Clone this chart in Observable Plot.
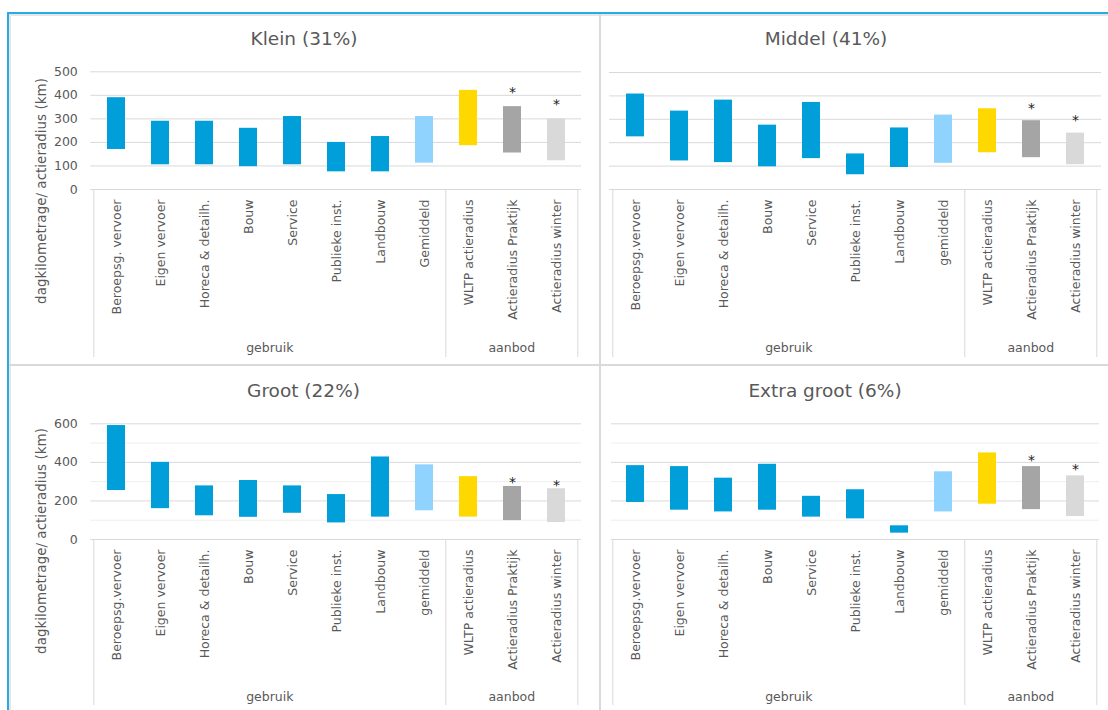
<!DOCTYPE html>
<html><head><meta charset="utf-8">
<script src="https://cdn.jsdelivr.net/npm/d3@7"></script>
<script src="https://cdn.jsdelivr.net/npm/@observablehq/plot@0.6"></script>
<style>
body{margin:0;background:#fff;font-family:"DejaVu Sans",sans-serif;}
#wrap{position:relative;width:1108px;height:710px;overflow:hidden;background:#fff;}
.panel{position:absolute;}
.ln{position:absolute;z-index:5;}
</style></head><body><div id="wrap"></div>
<script>
// ---- data ----
const catsKlein = ["Beroepsg. vervoer","Eigen vervoer","Horeca & detailh.","Bouw","Service","Publieke inst.","Landbouw","Gemiddeld","WLTP actieradius","Actieradius Praktijk","Actieradius winter"];
const catsOther = ["Beroepsg.vervoer","Eigen vervoer","Horeca & detailh.","Bouw","Service","Publieke inst.","Landbouw","gemiddeld","WLTP actieradius","Actieradius Praktijk","Actieradius winter"];
const kinds  = ["gebruik","gebruik","gebruik","gebruik","gebruik","gebruik","gebruik","gemiddeld","wltp","praktijk","winter"];
const groups = ["gebruik","gebruik","gebruik","gebruik","gebruik","gebruik","gebruik","gebruik","aanbod","aanbod","aanbod"];
const stars  = [false,false,false,false,false,false,false,false,false,true,true];

const kleinLow   = [170,105,105, 97,105, 75, 75,112,186,155,122];
const kleinHigh  = [390,290,290,260,310,200,225,310,421,352,300];
const middelLow  = [225,122,115, 97,132, 63, 94,112,157,136,106];
const middelHigh = [408,335,382,275,372,152,263,318,345,294,241];
const grootLow   = [254,160,123,115,136, 86,116,149,116, 98, 88];
const grootHigh  = [591,400,278,306,278,233,428,387,326,275,263];
const extraLow   = [192,152,143,152,116,107, 33,143,183,155,119];
const extraHigh  = [383,378,318,390,224,258, 71,351,449,378,330];

const ticks500 = [0,100,200,300,400,500];
const ticks600 = [0,200,400,600];
const minor600 = [100,300,500];

const kindOrder = ["gebruik","gemiddeld","wltp","praktijk","winter"];
const palette   = ["#009fda","#8fd3fe","#ffd800","#a5a5a5","#d9d9d9"];
const textColor = "#595959";
const yLabel = "dagkilometrage/ actieradius (km)";

const wrap = document.getElementById("wrap");

function panel(o) {
  const data = o.cats.map((c, i) => ({cat: c, lo: o.lo[i], hi: o.hi[i], kind: kinds[i], group: groups[i], star: stars[i]}));
  const chart = Plot.plot({
    width: o.width, height: o.height,
    marginLeft: o.ml, marginRight: o.mr, marginTop: o.mt, marginBottom: o.mb,
    style: {fontFamily: "DejaVu Sans", fontSize: "12.5px", color: textColor, background: "transparent", overflow: "visible"},
    x: {type: "band", domain: o.cats, paddingInner: 0.6, paddingOuter: 0.3, axis: null},
    y: {domain: [0, o.yMax], axis: null},
    color: {domain: kindOrder, range: palette},
    marks: [
      o.minor ? Plot.gridY(o.minor, {stroke: "#eeeeee", strokeOpacity: 1}) : null,
      Plot.gridY(o.ticks.filter(t => t > 0), {stroke: "#d9d9d9", strokeOpacity: 1}),
      Plot.ruleY([0], {stroke: "#d9d9d9"}),
      Plot.barY(data, {x: "cat", y1: "lo", y2: "hi", fill: "kind"}),
      Plot.text(data.filter(d => d.star), {x: "cat", y: "hi", text: () => "*", dy: o.starDy, fontSize: 14, fill: "#222"}),
      Plot.axisX({tickRotate: -90, tickSize: 0, tickPadding: 10, fontSize: 12.5, label: null}),
      o.showY ? Plot.axisY({ticks: o.ticks, tickSize: 0, tickPadding: 13, fontSize: 12.5, label: null, tickFormat: d3.format("d")}) : null
    ]
  });
  chart.classList.add("panel");
  chart.style.left = o.left + "px";
  chart.style.top = o.top + "px";
  wrap.appendChild(chart);

  const svg = d3.select(chart.tagName.toLowerCase() === "svg" ? chart : chart.querySelector("svg"));
  const xs = chart.scale("x"), ys = chart.scale("y");
  const step = xs.step;
  const cellLeft = c => xs.apply(c) - 0.3 * step;
  const y0 = ys.apply(0);
  const firstAanbod = o.cats[groups.indexOf("aanbod")];
  const lastCat = o.cats[o.cats.length - 1];
  const xsLines = [cellLeft(o.cats[0]), cellLeft(firstAanbod), cellLeft(lastCat) + step];
  const g = svg.append("g");
  xsLines.forEach(x => g.append("line").attr("x1", x).attr("x2", x).attr("y1", y0).attr("y2", y0 + o.boxH)
    .attr("stroke", "#d9d9d9").attr("stroke-width", 1));
  const groupNames = ["gebruik", "aanbod"];
  const gx = [(xsLines[0] + xsLines[1]) / 2, (xsLines[1] + xsLines[2]) / 2];
  groupNames.forEach((n, i) => g.append("text").attr("x", gx[i]).attr("y", y0 + o.groupY)
    .attr("text-anchor", "middle").attr("fill", textColor).attr("font-size", 12.5).attr("font-family", "DejaVu Sans").text(n));
  // title
  g.append("text").attr("x", o.titleX - o.left).attr("y", o.titleY).attr("text-anchor", "middle")
    .attr("fill", textColor).attr("font-size", 18.5).attr("font-family", "DejaVu Sans").text(o.title);
  if (o.showY) {
    g.append("text").attr("transform", `translate(${41 - o.left},${y0 + 2}) rotate(-90)`)
      .attr("text-anchor", "middle").attr("dy", "0.35em").attr("fill", textColor)
      .attr("font-size", 13.5).attr("font-family", "DejaVu Sans").text(yLabel);
  }
}

panel({title: "Klein (31%)", cats: catsKlein, lo: kleinLow, hi: kleinHigh, yMax: 500, ticks: ticks500, showY: true,
  left: 0, top: 0, width: 599, height: 365, ml: 90.3, mr: 18, mt: 71.3, mb: 176, titleX: 304, titleY: 45,
  starDy: -14.5, boxH: 168, groupY: 163});
panel({title: "Middel (41%)", cats: catsOther, lo: middelLow, hi: middelHigh, yMax: 500, ticks: ticks500, showY: false,
  left: 599, top: 0, width: 509, height: 365, ml: 10, mr: 7, mt: 72, mb: 176, titleX: 826, titleY: 45,
  starDy: -12.5, boxH: 168, groupY: 163});
panel({title: "Groot (22%)", cats: catsOther, lo: grootLow, hi: grootHigh, yMax: 600, ticks: ticks600, minor: minor600, showY: true,
  left: 0, top: 365, width: 599, height: 345, ml: 90.3, mr: 18, mt: 58.3, mb: 171, titleX: 303.5, titleY: 32,
  starDy: -3.5, boxH: 166, groupY: 162});
panel({title: "Extra groot (6%)", cats: catsOther, lo: extraLow, hi: extraHigh, yMax: 600, ticks: ticks600, minor: minor600, showY: false,
  left: 599, top: 365, width: 509, height: 345, ml: 12, mr: 9, mt: 58.3, mb: 171, titleX: 825, titleY: 32,
  starDy: -6.5, boxH: 166, groupY: 162});

// frame lines
function line(l, t, w, h, c) {
  const d = document.createElement("div");
  d.className = "ln";
  Object.assign(d.style, {left: l + "px", top: t + "px", width: w + "px", height: h + "px", background: c});
  wrap.appendChild(d);
}
line(9, 14, 1099, 1.5, "#e6e6e6");
line(9, 14, 1.5, 696, "#e6e6e6");
line(599, 14, 1.5, 696, "#d9d9d9");
line(9, 364, 1099, 1.5, "#d9d9d9");
line(7, 12, 1101, 2, "#29abe2");
line(7, 12, 2, 698, "#29abe2");
</script>
</body></html>
